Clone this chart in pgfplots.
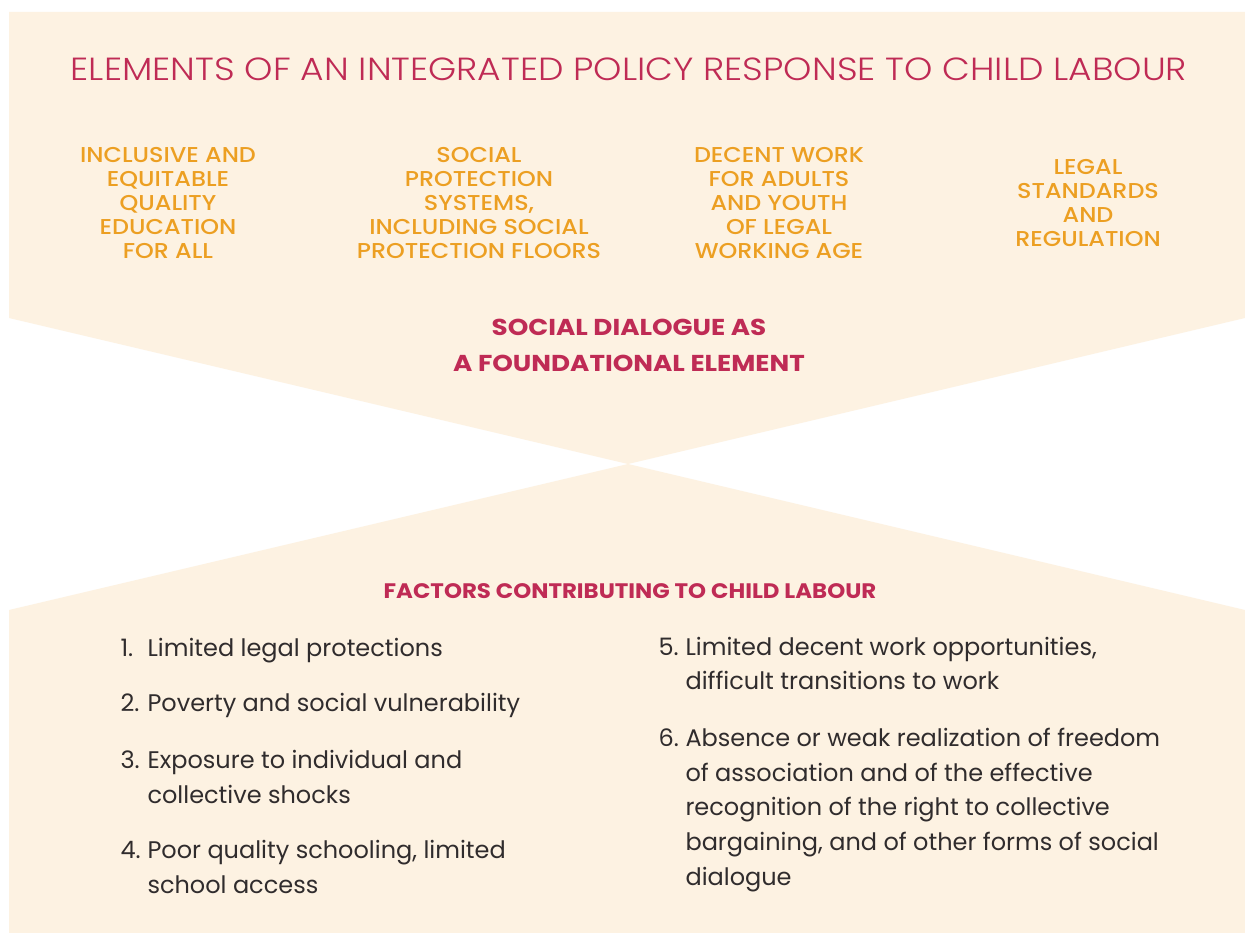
\documentclass[border=0pt]{standalone}
\usepackage{pgfplots}
\pgfplotsset{compat=1.18}
\usepackage{fontspec}
\setmainfont{Poppins}
\newfontfamily\pmed{Poppins Medium}
\newfontfamily\plight{Poppins Light}
\definecolor{cream}{HTML}{FDF2E2}
\definecolor{orng}{HTML}{EC9F22}
\definecolor{crim}{HTML}{BF2B55}
\definecolor{body}{HTML}{302C2D}
\newcommand{\ttl}{\plight\fontsize{32}{32}\selectfont}
\newcommand{\org}{\pmed\fontsize{21.5}{24}\selectfont}
\newcommand{\crm}{\fontsize{23}{34}\selectfont\bfseries}
\newcommand{\fct}{\fontsize{21}{24}\selectfont\bfseries}
\newcommand{\bdy}{\fontsize{24}{35}\selectfont}
\newcommand{\OL}[3]{\node[anchor=base, text=orng, font=\org] at (axis cs:#1,#2) {\scalebox{1.11}[1]{#3}};}
\newcommand{\BL}[3]{\node[anchor=base west, text=body, font=\bdy] at (axis cs:#1,#2) {#3};}
\begin{document}
\begin{tikzpicture}
\begin{axis}[
  width=1245pt, height=933pt, scale only axis,
  xmin=0, xmax=1245, ymin=0, ymax=933, y dir=reverse,
  hide axis, clip=false,
  every node/.append style={inner sep=0pt, outer sep=0pt},
]
\addplot[draw=none, fill=white] coordinates {(0,0) (1245,0) (1245,933) (0,933)} -- cycle;
\addplot[draw=none, fill=cream] coordinates {(9,12) (1245,12) (1245,318) (628,464) (9,318)} -- cycle;
\addplot[draw=none, fill=cream] coordinates {(9,610) (628,464) (1245,610) (1245,933) (9,933)} -- cycle;

% title
\node[anchor=base, text=crim, font=\ttl] at (axis cs:629,81) {\scalebox{1.126}[1]{ELEMENTS OF AN INTEGRATED POLICY RESPONSE TO CHILD LABOUR}};

% orange columns
\OL{168}{163}{INCLUSIVE AND}
\OL{168}{187}{EQUITABLE}
\OL{168}{211}{QUALITY}
\OL{168}{235}{EDUCATION}
\OL{168}{259}{FOR ALL}

\OL{479}{163}{SOCIAL}
\OL{479}{187}{PROTECTION}
\OL{479}{211}{SYSTEMS,}
\OL{479}{235}{INCLUDING SOCIAL}
\OL{479}{259}{PROTECTION FLOORS}

\OL{779}{163}{DECENT WORK}
\OL{779}{187}{FOR ADULTS}
\OL{779}{211}{AND YOUTH}
\OL{779}{235}{OF LEGAL}
\OL{779}{259}{WORKING AGE}

\OL{1088}{175}{LEGAL}
\OL{1088}{199}{STANDARDS}
\OL{1088}{223}{AND}
\OL{1088}{247}{REGULATION}

% crimson
\node[anchor=base, text=crim, font=\crm] at (axis cs:629,336) {\scalebox{1.14}[1]{SOCIAL DIALOGUE AS}};
\node[anchor=base, text=crim, font=\crm] at (axis cs:629,371) {\scalebox{1.14}[1]{A FOUNDATIONAL ELEMENT}};
\node[anchor=base, text=crim, font=\fct] at (axis cs:630,598) {\scalebox{1.09}[1]{FACTORS CONTRIBUTING TO CHILD LABOUR}};

% list col 1
\BL{117}{656}{1.}
\BL{144}{656}{Limited legal protections}
\BL{117}{711}{2.}
\BL{144}{711}{Poverty and social vulnerability}
\BL{117}{768}{3.}
\BL{144}{768}{Exposure to individual and}
\BL{144}{803}{collective shocks}
\BL{117}{858}{4.}
\BL{144}{858}{Poor quality schooling, limited}
\BL{144}{893}{school access}

% list col 2
\BL{655}{655}{5.}
\BL{682}{655}{Limited decent work opportunities,}
\BL{682}{689}{difficult transitions to work}
\BL{655}{746}{6.}
\BL{682}{746}{Absence or weak realization of freedom}
\BL{682}{781}{of association and of the effective}
\BL{682}{815}{recognition of the right to collective}
\BL{682}{850}{bargaining, and of other forms of social}
\BL{682}{885}{dialogue}
\end{axis}
\end{tikzpicture}
\end{document}
